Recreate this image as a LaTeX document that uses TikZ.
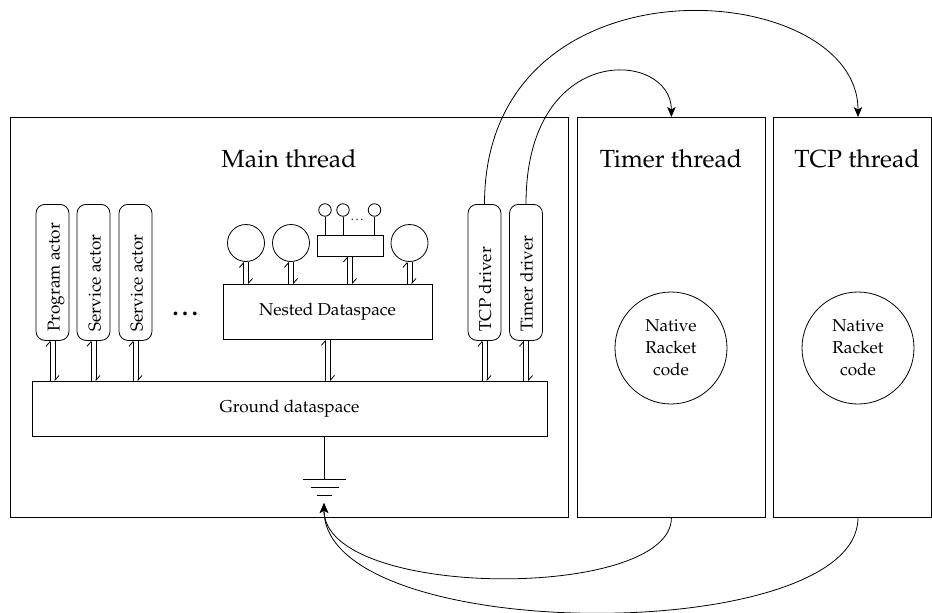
\documentclass[tikz,border=0pt]{standalone}
\usepackage[T1]{fontenc}
\usepackage{mathpazo}
\usetikzlibrary{arrows.meta}
\newcommand\hpair[2]{%
  \draw[hup] ([xshift=-2.6pt]#1.south |- #2.north) -- ([xshift=-2.6pt]#1.south);
  \draw[hdown] ([xshift=2.6pt]#1.south) -- ([xshift=2.6pt]#1.south |- #2.north);}
\begin{document}
\begin{tikzpicture}[x=1pt,y=-1pt,line width=0.8pt,
  box/.style={draw, inner sep=0pt, anchor=north west},
  titletext/.style={font=\fontsize{24.8}{30}\selectfont, anchor=base, inner sep=0pt},
  lbl/.style={font=\fontsize{17.2}{22}\selectfont},
  pill/.style={draw, rounded corners=9pt, minimum width=33pt, minimum height=136pt, anchor=north, inner sep=0pt},
  vlabel/.style={lbl, rotate=90, anchor=base west, inner sep=0pt},
  bubble/.style={draw, circle, minimum size=37pt, inner sep=0pt},
  tinyc/.style={draw, circle, minimum size=12.5pt, inner sep=0pt},
  native/.style={draw, circle, minimum size=112pt, inner sep=0pt, lbl, align=center},
  hup/.style={-{Straight Barb[left,length=4.5pt,width=8pt]}},
  hdown/.style={-{Straight Barb[left,length=4.5pt,width=8pt]}},
  arr/.style={-{Stealth[length=10pt,width=8.5pt,inset=2.5pt]}}]
\useasboundingbox (0,0) rectangle (932,613);

% thread boxes
\node[box, minimum width=558pt, minimum height=400pt] (main) at (10,117) {};
\node[box, minimum width=188pt, minimum height=400pt] (timer) at (577,117) {};
\node[box, minimum width=158pt, minimum height=400pt] (tcp) at (773,117) {};
\node[titletext] (maint) at (289,167) {Main thread};
\node[titletext] (timert) at (671,167) {Timer thread};
\node[titletext] (tcpt) at (857,167) {TCP thread};

% native code circles
\node[native] (nrc1) at (671,348) {Native\\Racket\\code};
\node[native] (nrc2) at (858,348) {Native\\Racket\\code};

% actors
\node[pill] (p1) at (52.5,204) {};
\node[pill] (s1) at (93.5,204) {};
\node[pill] (s2) at (135.5,204) {};
\node[pill] (tcpd) at (484.5,204) {};
\node[pill] (timd) at (526,204) {};
\node[vlabel] (p1l) at (59.5,332) {Program actor};
\node[vlabel] (s1l) at (100.5,332) {Service actor};
\node[vlabel] (s2l) at (142.5,332) {Service actor};
\node[vlabel] (tcpdl) at (491,332) {TCP driver};
\node[vlabel] (timdl) at (532.5,332) {Timer driver};
\node[font=\fontsize{24}{28}\selectfont\bfseries] (adots) at (187,314) {\ldots};

% dataspaces
\node[box, minimum width=515pt, minimum height=55pt] (ground) at (32,381) {};
\node[lbl] (groundl) at (289.5,408.5) {Ground dataspace};
\node[box, minimum width=209pt, minimum height=55pt] (nested) at (223,284) {};
\node[lbl] (nestedl) at (327.5,311.5) {Nested Dataspace};

% nested actors
\node[bubble] (c1) at (246,243) {};
\node[bubble] (c2) at (291,243) {};
\node[bubble] (c4) at (409.5,243) {};
\node[draw, inner sep=0pt, minimum width=66pt, minimum height=21pt] (sub) at (350,245.5) {};
\node[tinyc] (sc1) at (325,210) {};
\node[tinyc] (sc2) at (343,210) {};
\node[tinyc] (sc3) at (374.5,210) {};
\node[font=\fontsize{12}{14}\selectfont] (sdots) at (358,220) {\ldots};
\draw (sc1.south) -- (sc1.south |- sub.north);
\draw (sc2.south) -- (sc2.south |- sub.north);
\draw (sc3.south) -- (sc3.south |- sub.north);

% harpoon pairs
\hpair{p1}{ground}
\hpair{s1}{ground}
\hpair{s2}{ground}
\hpair{tcpd}{ground}
\hpair{timd}{ground}
\hpair{nested}{ground}
\hpair{c1}{nested}
\hpair{c2}{nested}
\hpair{sub}{nested}
\hpair{c4}{nested}

% ground symbol
\coordinate (gsym) at (324,479);
\coordinate (gtip) at (324,503);
\draw (ground.south -| gsym) -- (gsym);
\draw ([xshift=-21pt]gsym) -- ([xshift=22pt]gsym);
\draw ([xshift=-13.5pt,yshift=-8pt]gsym) -- ([xshift=14.5pt,yshift=-8pt]gsym);
\draw ([xshift=-7pt,yshift=-16pt]gsym) -- ([xshift=8pt,yshift=-16pt]gsym);

% thread connectors
\draw[arr] (tcpd.north) .. controls +(0,-255) and +(0,-140) .. (tcp.north -| nrc2);
\draw[arr] (timd.north) .. controls +(0,-164) and +(0,-67) .. (timer.north);
\draw[arr] (timer.south) .. controls +(0,83) and +(0,97) .. (gtip);
\draw[arr] (tcp.south -| nrc2) .. controls +(0,129) and +(0,143) .. (gtip);
\end{tikzpicture}
\end{document}
